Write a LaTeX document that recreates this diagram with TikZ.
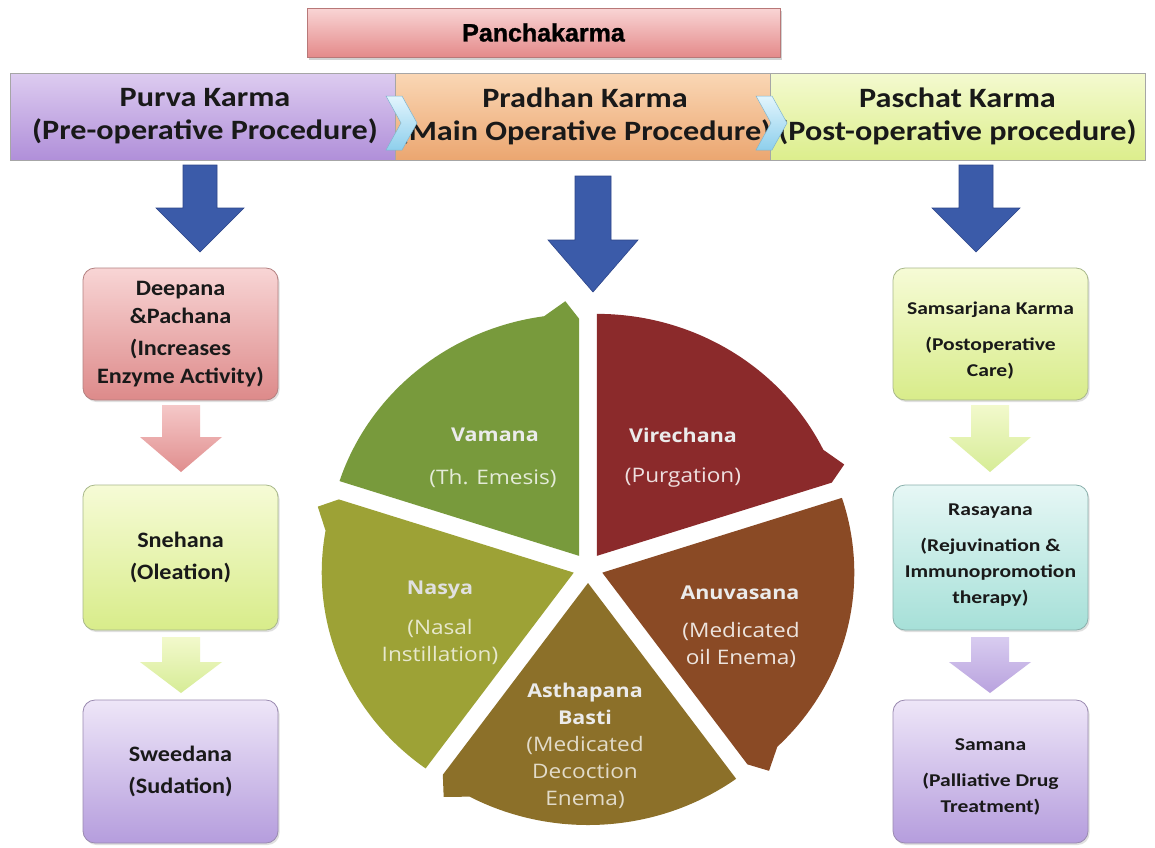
\documentclass[tikz,border=0pt]{standalone}
\usepackage{fontspec}
\setmainfont{Carlito}
\newfontfamily\piefont{Open Sans}[FakeStretch=1.13]
\newfontfamily\ttlfont{Liberation Sans}[BoldFeatures={FakeBold=1.2}]
\newfontfamily\hdrfont{Carlito}[FakeStretch=1.15]
\newfontfamily\lboxfont{Carlito}[FakeStretch=1.1]
\newfontfamily\rboxfont{Carlito}[FakeStretch=1.2]
\usetikzlibrary{shadows}
\definecolor{pkT}{HTML}{F9D5D5}\definecolor{pkB}{HTML}{E48A8A}\definecolor{pkD}{HTML}{B87878}
\definecolor{puT}{HTML}{DDCCF0}\definecolor{puB}{HTML}{B08FD9}
\definecolor{prT}{HTML}{FAD7B5}\definecolor{prB}{HTML}{EBA670}
\definecolor{paT}{HTML}{F4FAD0}\definecolor{paB}{HTML}{DCEE8C}
\definecolor{chT}{HTML}{E2F5FD}\definecolor{chB}{HTML}{8ECFEC}\definecolor{chD}{HTML}{7FB5CF}
\definecolor{dpT}{HTML}{F8D5D5}\definecolor{dpB}{HTML}{DD8A8A}\definecolor{dpD}{HTML}{B38080}
\definecolor{gT}{HTML}{F6FBD6}\definecolor{gB}{HTML}{D8EC8A}\definecolor{gD}{HTML}{A8B88A}
\definecolor{vT}{HTML}{EEE6F8}\definecolor{vB}{HTML}{B59DDD}\definecolor{vD}{HTML}{9A8AB0}
\definecolor{cT}{HTML}{E6F7F5}\definecolor{cB}{HTML}{A6E0D8}\definecolor{cD}{HTML}{8AB0AC}
\definecolor{apT}{HTML}{F5C8C8}\definecolor{apB}{HTML}{E08E8E}
\definecolor{agT}{HTML}{F2F9CC}\definecolor{agB}{HTML}{D6EC96}
\definecolor{avT}{HTML}{D8CCF0}\definecolor{avB}{HTML}{B9A2DE}
\definecolor{blueF}{HTML}{3B5BA9}\definecolor{blueD}{HTML}{2D4589}
\definecolor{vamC}{HTML}{789A3C}\definecolor{virC}{HTML}{8B2A2B}
\definecolor{anuC}{HTML}{8A4A25}\definecolor{astC}{HTML}{8C7029}
\definecolor{nasC}{HTML}{9DA236}
\newcommand\bigdown[6]{%
  \fill[blueF,draw=blueD,line width=0.6pt] (#1-#3,#2) -- (#1+#3,#2) -- (#1+#3,#4) -- (#1+#5,#4) -- (#1,#6) -- (#1-#5,#4) -- (#1-#3,#4) -- cycle;}
\newcommand\smalldown[8]{%
  \path[top color=#7,bottom color=#8] (#1-#3,#2) -- (#1+#3,#2) -- (#1+#3,#4) -- (#1+#5,#4) -- (#1,#6) -- (#1-#5,#4) -- (#1-#3,#4) -- cycle;}
\newcommand\chevronshape[3]{%
  \path[top color=chT,bottom color=chB,draw=chD,line width=0.5pt] (#1,#2) -- (#1+16,#2) -- (#1+31,#2/2+#3/2) -- (#1+16,#3) -- (#1,#3) -- (#1+15,#2/2+#3/2) -- cycle;}
\begin{document}
\begin{tikzpicture}[x=1pt,y=-1pt,
  hdr/.style={draw=gray!70, line width=0.6pt, minimum height=87pt, align=center,
     font=\hdrfont\bfseries\fontsize{28}{33}\selectfont, text=black!90},
  sbox/.style={line width=0.8pt, rounded corners=12pt, minimum width=195pt, align=center, text=black!90,
     drop shadow={shadow xshift=1.5pt,shadow yshift=-2pt,opacity=0.25}},
  lfont/.style={font=\lboxfont\bfseries\fontsize{22}{28}\selectfont},
  rtext/.style={font=\rboxfont\bfseries\fontsize{18}{26}\selectfont, align=center, text=black!90},
  ptitle/.style={font=\piefont\bfseries\fontsize{19}{27}\selectfont, align=center},
  psub/.style={font=\piefont\fontsize{20}{27}\selectfont, align=center}]
\fill[white] (0,0) rectangle (1155,847);
\useasboundingbox (0,0) rectangle (1155,847);

% title
\node[draw=pkD, line width=0.8pt, top color=pkT, bottom color=pkB, minimum width=473pt, minimum height=49pt,
  font=\ttlfont\bfseries\fontsize{25}{26}\selectfont,
  drop shadow={shadow xshift=1.5pt,shadow yshift=-2.5pt,opacity=0.35}] (title) at (543.5,32.5) {Panchakarma};

% header
\node[hdr, top color=puT, bottom color=puB, minimum width=390pt] (purva) at (205,116.5) {Purva Karma\\(Pre-operative Procedure)};
\node[hdr, top color=prT, bottom color=prB, minimum width=370pt] (pradhan) at (585,116.5) {Pradhan Karma\\(Main Operative Procedure)};
\node[hdr, top color=paT, bottom color=paB, minimum width=375pt] (paschat) at (957.5,116.5) {Paschat Karma\\(Post-operative procedure)};
\chevronshape{386}{96}{150}
\chevronshape{756}{96}{150}

% blue arrows
\bigdown{200}{165}{17}{208}{44}{252}
\bigdown{593}{176}{18}{240}{45}{292}
\bigdown{976}{165}{17}{208}{44}{252}

% left column
\node[sbox, lfont, draw=dpD, top color=dpT, bottom color=dpB, minimum height=132pt] (deepana) at (180.5,334)
  {Deepana\\\&Pachana\\[4pt](Increases\\Enzyme Activity)};
\node[sbox, lfont, draw=gD, top color=gT, bottom color=gB, minimum height=145pt] (snehana) at (180.5,557.5)
  {Snehana\\[4pt](Oleation)};
\node[sbox, lfont, draw=vD, top color=vT, bottom color=vB, minimum height=143pt] (sweedana) at (180.5,771.5)
  {Sweedana\\[4pt](Sudation)};
\smalldown{181}{405}{19}{437}{41}{472}{apT}{apB}
\smalldown{181}{637}{19}{662}{41}{693}{agT}{agB}

% right column
\node[sbox, draw=gD, top color=gT, bottom color=gB, minimum height=132pt] (samsarjana) at (990.5,334) {};
\node[rtext] (samsarjanaT) at (990.5,341) {Samsarjana Karma\\[10pt](Postoperative\\Care)};
\node[sbox, draw=cD, top color=cT, bottom color=cB, minimum height=145pt] (rasayana) at (990.5,557.5) {};
\node[rtext] (rasayanaT) at (990.5,555) {Rasayana\\[10pt](Rejuvination \&\\Immunopromotion\\therapy)};
\node[sbox, draw=vD, top color=vT, bottom color=vB, minimum height=143pt] (samana) at (990.5,771.5) {};
\node[rtext] (samanaT) at (990.5,777) {Samana\\[10pt](Palliative Drug\\Treatment)};
\smalldown{990}{405}{19}{437}{41}{472}{agT}{agB}
\smalldown{990}{637}{19}{662}{41}{693}{avT}{avB}

% pie
\begin{scope}[shift={(588,568)}, y=1pt]
\foreach \s/\c in {162/vamC, 90/virC, 18/anuC, -54/astC, -126/nasC}{
  \pgfmathsetmacro\e{\s-72}
  \pgfmathsetmacro\b{\s-36}
  \pgfmathsetmacro\ea{\s-64}
  \pgfmathsetmacro\eb{\s-69}
  \begin{scope}[shift={(\b:15)}]
    \fill[\c] (0,0) -- (\s:252 and 242) arc[start angle=\s, end angle=\ea, x radius=252, y radius=242]
      -- (\eb:265 and 255) -- (\e:247 and 237) -- cycle;
  \end{scope}
}
\end{scope}

% pie texts
\node[ptitle, text=white!92!black] (vamT) at (495,435) {Vamana};
\node[psub, text=white!80!vamC] (vamS) at (493,478) {(Th. Emesis)};
\node[ptitle, text=white!92!black] (virT) at (683,435) {Virechana};
\node[psub, text=white!85!virC] (virS) at (683,478) {(Purgation)};
\node[ptitle, text=white!92!black] (anuT) at (740,593) {Anuvasana};
\node[psub, text=white!85!anuC] (anuS) at (741,645) {(Medicated\\oil Enema)};
\node[ptitle, text=white!92!black] (astT) at (585,704) {Asthapana\\Basti};
\node[psub, text=white!75!astC] (astS) at (585,772) {(Medicated\\Decoction\\Enema)};
\node[ptitle, text=white!88!black] (nasT) at (440,590) {Nasya};
\node[psub, text=white!75!nasC] (nasS) at (440,642) {(Nasal\\Instillation)};
\end{tikzpicture}
\end{document}
